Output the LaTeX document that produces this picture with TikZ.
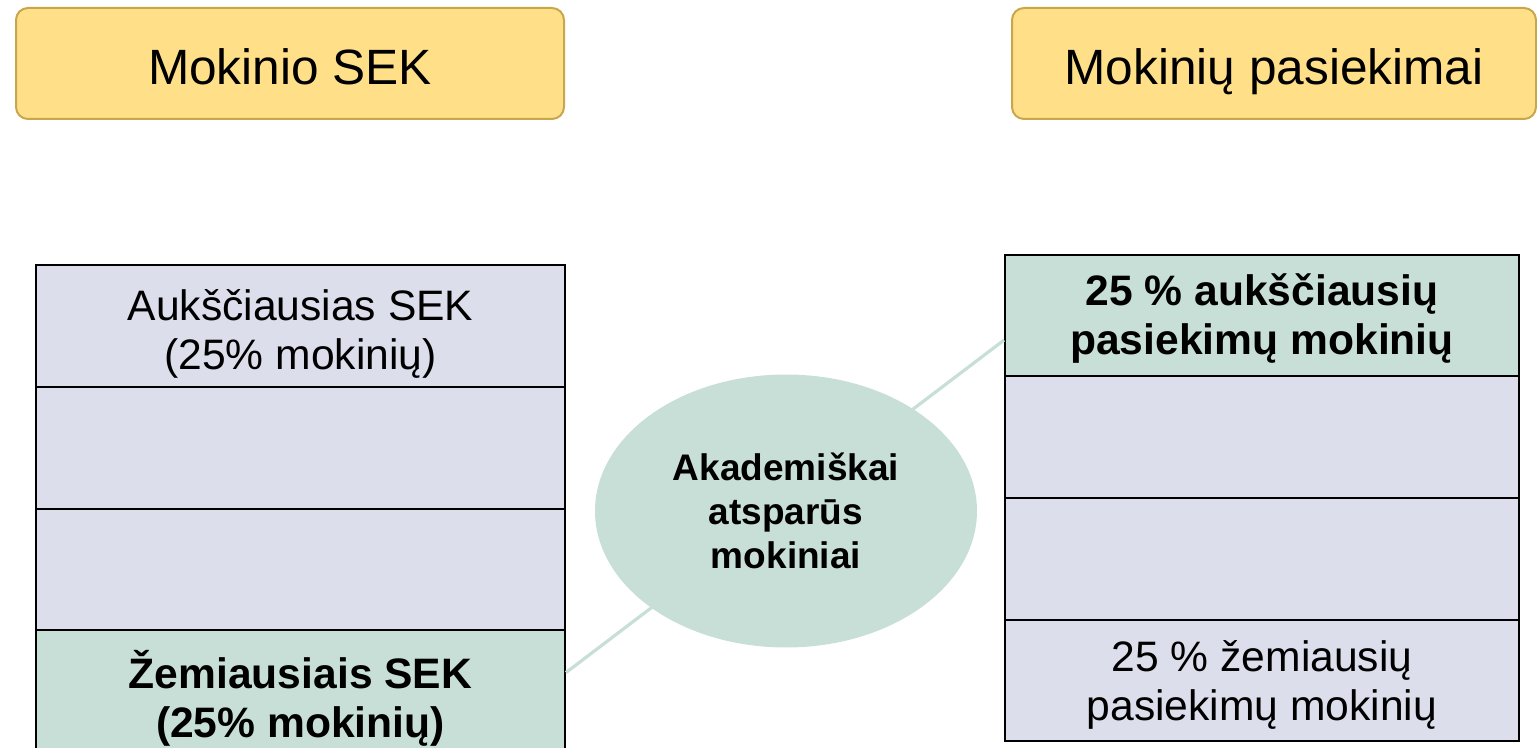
\documentclass[tikz,border=0pt]{standalone}
\usepackage{fontspec}
\setmainfont{Liberation Sans}
\usetikzlibrary{shapes.geometric,calc}
\definecolor{hdrfill}{HTML}{FFDF88}
\definecolor{hdrline}{HTML}{C8A74C}
\definecolor{lav}{HTML}{DCDEEB}
\definecolor{mint}{HTML}{C8DFD8}
\tikzset{
  hdr/.style={draw=hdrline, fill=hdrfill, line width=1pt, rounded corners=6pt,
    minimum height=55.5pt, inner sep=0pt},
  hdrtxt/.style={font=\fontsize{24.8}{28}\selectfont, inner sep=0pt},
  rowbox/.style={draw=black, line width=1pt, inner sep=0pt},
  lavrow/.style={rowbox, fill=lav},
  mintrow/.style={rowbox, fill=mint},
  rowtxt/.style={align=center, inner sep=0pt, font=\fontsize{21.3}{24.5}\selectfont},
  rowtxtb/.style={align=center, inner sep=0pt, font=\bfseries\fontsize{21.3}{24.5}\selectfont},
  blob/.style={ellipse, fill=mint, draw=none, inner sep=0pt, align=center,
    minimum width=191pt, minimum height=136.5pt,
    font=\bfseries\fontsize{18.5}{22}\selectfont},
  link/.style={draw=mint, line width=1.6pt}
}
\begin{document}
\begin{tikzpicture}[x=0.5pt,y=-0.5pt]
\useasboundingbox (0,0) rectangle (1537,748);
\clip (0,0) rectangle (1537,748);
% headers
\node[hdr, minimum width=274pt, label={[hdrtxt, name=h1t, yshift=-1.5pt]center:Mokinio SEK}] (h1) at (290,63.5) {};
\node[hdr, minimum width=262pt, label={[hdrtxt, name=h2t, yshift=-4pt]center:Mokinių pasiekimai}] (h2) at (1274,63.5) {};
% left column
\node[lavrow, minimum width=264.5pt, minimum height=61pt,
  label={[rowtxt, name=l1t, yshift=-4pt]center:Aukščiausias SEK\\(25\% mokinių)}] (l1) at (300.5,326) {};
\node[lavrow, minimum width=264.5pt, minimum height=61pt] (l2) at (300.5,448) {};
\node[lavrow, minimum width=264.5pt, minimum height=60.5pt] (l3) at (300.5,569.5) {};
\node[mintrow, minimum width=264.5pt, minimum height=63pt,
  label={[rowtxtb, name=l4t, yshift=-2.5pt]center:Žemiausiais SEK\\(25\% mokinių)}] (l4) at (300.5,693) {};
% right column
\node[mintrow, minimum width=257pt, minimum height=60.5pt,
  label={[rowtxtb, name=r1t, yshift=-1.5pt]center:25 \% aukščiausių\\pasiekimų mokinių}] (r1) at (1262,315.5) {};
\node[lavrow, minimum width=257pt, minimum height=61pt] (r2) at (1262,437) {};
\node[lavrow, minimum width=257pt, minimum height=61pt] (r3) at (1262,559) {};
\node[lavrow, minimum width=257pt, minimum height=60.5pt,
  label={[rowtxt, name=r4t, yshift=-2pt]center:25 \% žemiausių\\pasiekimų mokinių}] (r4) at (1262,680.5) {};
% connector
\coordinate (p1) at ($(l4.north east)!0.34!(l4.south east)$);
\coordinate (p2) at ($(r1.north west)!0.70!(r1.south west)$);
\draw[link] (p1) -- (p2);
% ellipse
\node[blob] (e) at (786,511) {Akademiškai\\atsparūs\\mokiniai};
\end{tikzpicture}
\end{document}
